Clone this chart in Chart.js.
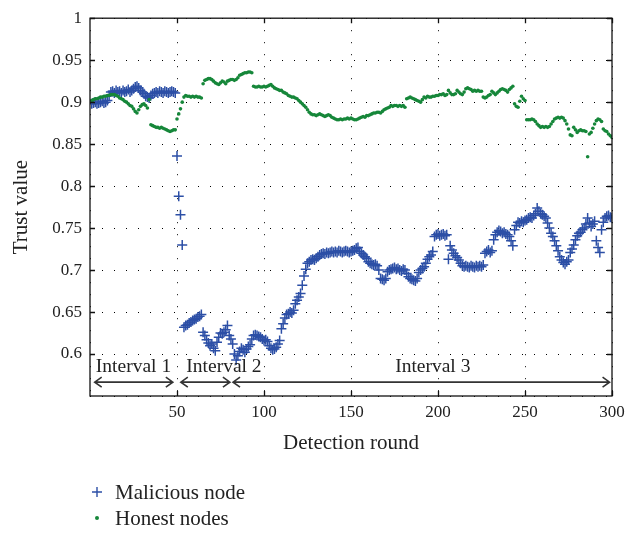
<!DOCTYPE html>
<html>
<head>
<meta charset="utf-8">
<script src="https://cdn.jsdelivr.net/npm/chart.js@4"></script>
<style>
html, body { margin: 0; padding: 0; background: #fff; }
#wrap { width: 640px; height: 533px; }
</style>
</head>
<body>
<div id="wrap"><canvas id="chart"></canvas></div>
<script>
// detection rounds 1..300 (x axis)
var rounds = [];
for (var r = 1; r <= 300; r++) rounds.push(r);

// trust value of the malicious node, one per round
var maliciousNode = [
    0.898, 0.899, 0.900, 0.898, 0.899, 0.900, 0.901, 0.899, 0.900, 0.902,
    0.908, 0.912, 0.913, 0.911, 0.914, 0.912, 0.913, 0.911, 0.914, 0.912,
    0.913, 0.915, 0.912, 0.914, 0.916, 0.918, 0.919, 0.917, 0.914, 0.912,
    0.910, 0.907, 0.906, 0.905, 0.908, 0.910, 0.911, 0.912, 0.911, 0.913,
    0.912, 0.911, 0.913, 0.912, 0.911, 0.912, 0.913, 0.912, 0.911, 0.836,
    0.788, 0.766, 0.730, 0.632, 0.634, 0.635, 0.637, 0.638, 0.640, 0.641,
    0.642, 0.644, 0.645, 0.647, 0.626, 0.622, 0.617, 0.613, 0.610, 0.612,
    0.607, 0.604, 0.614, 0.620, 0.625, 0.624, 0.626, 0.629, 0.634, 0.622,
    0.618, 0.612, 0.600, 0.593, 0.598, 0.603, 0.607, 0.605, 0.602, 0.606,
    0.609, 0.611, 0.618, 0.622, 0.623, 0.622, 0.621, 0.620, 0.618, 0.616,
    0.617, 0.615, 0.610, 0.607, 0.605, 0.606, 0.608, 0.612, 0.616, 0.630,
    0.636, 0.643, 0.647, 0.648, 0.650, 0.649, 0.652, 0.660, 0.664, 0.668,
    0.672, 0.682, 0.693, 0.701, 0.708, 0.710, 0.712, 0.713, 0.712, 0.714,
    0.716, 0.718, 0.719, 0.720, 0.719, 0.721, 0.720, 0.721, 0.722, 0.721,
    0.722, 0.721, 0.723, 0.722, 0.721, 0.722, 0.723, 0.722, 0.721, 0.722,
    0.723, 0.724, 0.726, 0.727, 0.722, 0.720, 0.718, 0.716, 0.714, 0.710,
    0.708, 0.707, 0.706, 0.707, 0.705, 0.700, 0.690, 0.689, 0.688, 0.690,
    0.698, 0.700, 0.701, 0.702, 0.703, 0.701, 0.702, 0.700, 0.699, 0.701,
    0.700, 0.696, 0.692, 0.690, 0.689, 0.688, 0.687, 0.690, 0.697, 0.700,
    0.702, 0.704, 0.708, 0.713, 0.716, 0.718, 0.722, 0.740, 0.742, 0.743,
    0.741, 0.742, 0.743, 0.741, 0.742, 0.713, 0.729, 0.724, 0.720, 0.717,
    0.715, 0.712, 0.708, 0.705, 0.704, 0.705, 0.704, 0.703, 0.705, 0.704,
    0.703, 0.705, 0.704, 0.705, 0.704, 0.706, 0.720, 0.722, 0.724, 0.721,
    0.723, 0.736, 0.742, 0.745, 0.747, 0.746, 0.744, 0.745, 0.743, 0.742,
    0.740, 0.735, 0.729, 0.748, 0.753, 0.757, 0.756, 0.758, 0.757, 0.759,
    0.760, 0.762, 0.763, 0.762, 0.765, 0.767, 0.774, 0.770, 0.767, 0.766,
    0.764, 0.762, 0.756, 0.750, 0.744, 0.740, 0.735, 0.729, 0.723, 0.716,
    0.712, 0.709, 0.707, 0.710, 0.712, 0.721, 0.725, 0.730, 0.736, 0.741,
    0.744, 0.745, 0.748, 0.750, 0.755, 0.762, 0.756, 0.752, 0.755, 0.758,
    0.735, 0.727, 0.721, 0.748, 0.757, 0.762, 0.764, 0.765, 0.763, 0.762
];

// trust value of the honest nodes, one per round
var honestNodes = [
    0.902, 0.903, 0.904, 0.904, 0.905, 0.906, 0.906, 0.907, 0.907, 0.908,
    0.908, 0.909, 0.909, 0.909, 0.908, 0.907, 0.905, 0.904, 0.903, 0.901,
    0.900, 0.898, 0.896, 0.895, 0.892, 0.889, 0.887, 0.891, 0.895, 0.897,
    0.898, 0.896, 0.893, 0.903, 0.873, 0.872, 0.871, 0.870, 0.870, 0.869,
    0.870, 0.869, 0.868, 0.867, 0.866, 0.865, 0.866, 0.867, 0.867, 0.880,
    0.886, 0.892, 0.900, 0.906, 0.908, 0.907, 0.907, 0.906, 0.907, 0.906,
    0.907, 0.906, 0.906, 0.905, 0.922, 0.926, 0.927, 0.928, 0.928, 0.927,
    0.925, 0.923, 0.922, 0.921, 0.923, 0.925, 0.924, 0.922, 0.925, 0.926,
    0.927, 0.927, 0.926, 0.927, 0.929, 0.932, 0.933, 0.934, 0.935, 0.935,
    0.936, 0.936, 0.935, 0.919, 0.918, 0.918, 0.919, 0.918, 0.918, 0.919,
    0.918, 0.919, 0.920, 0.921, 0.919, 0.917, 0.916, 0.915, 0.914, 0.914,
    0.912, 0.911, 0.910, 0.908, 0.907, 0.906, 0.906, 0.905, 0.904, 0.902,
    0.900, 0.898, 0.896, 0.894, 0.891, 0.888, 0.886, 0.885, 0.885, 0.884,
    0.885, 0.886, 0.885, 0.884, 0.883, 0.884, 0.885, 0.884, 0.882, 0.881,
    0.880, 0.879, 0.879, 0.880, 0.879, 0.880, 0.880, 0.881, 0.880, 0.881,
    0.880, 0.879, 0.879, 0.880, 0.881, 0.882, 0.883, 0.882, 0.884, 0.884,
    0.885, 0.886, 0.887, 0.887, 0.888, 0.888, 0.887, 0.889, 0.891, 0.892,
    0.893, 0.894, 0.896, 0.895, 0.896, 0.896, 0.895, 0.896, 0.895, 0.896,
    0.894, 0.904, 0.905, 0.906, 0.905, 0.904, 0.903, 0.902, 0.901, 0.900,
    0.903, 0.906, 0.905, 0.907, 0.906, 0.906, 0.907, 0.907, 0.908, 0.908,
    0.909, 0.909, 0.910, 0.908, 0.909, 0.914, 0.911, 0.909, 0.909, 0.910,
    0.914, 0.912, 0.910, 0.909, 0.912, 0.916, 0.917, 0.916, 0.915, 0.913,
    0.914, 0.913, 0.914, 0.913, 0.913, 0.906, 0.905, 0.906, 0.908, 0.909,
    0.913, 0.911, 0.909, 0.911, 0.913, 0.915, 0.916, 0.915, 0.914, 0.912,
    0.915, 0.917, 0.919, 0.898, 0.895, 0.894, 0.901, 0.907, 0.904, 0.902,
    0.879, 0.879, 0.879, 0.880, 0.879, 0.877, 0.874, 0.872, 0.870, 0.871,
    0.870, 0.871, 0.870, 0.871, 0.874, 0.877, 0.880, 0.881, 0.882, 0.881,
    0.882, 0.881, 0.878, 0.874, 0.868, 0.861, 0.860, 0.870, 0.867, 0.864,
    0.866, 0.867, 0.866, 0.866, 0.865, 0.835, 0.862, 0.864, 0.869, 0.874,
    0.878, 0.880, 0.879, 0.877, 0.868, 0.866, 0.865, 0.862, 0.860, 0.858
];

var xTicks = [50, 100, 150, 200, 250, 300];
var yTicks = [0.6, 0.65, 0.7, 0.75, 0.8, 0.85, 0.9, 0.95, 1];

// interval annotations (in detection rounds)
var intervalLabels = ["Interval 1", "Interval 2", "Interval 3"];
var intervalFrom = [2.7, 52.2, 82.2];
var intervalTo = [47.6, 80.4, 298.6];
var intervalTextAt = [25, 77, 197];

var SERIF = "'Liberation Serif', 'DejaVu Serif', serif";
var BLUE = "#2c4fa6";
var GREEN = "#16873a";

function toPoints(values) {
    return values.map(function (v, i) { return { x: rounds[i], y: v }; });
}

var decorations = {
    id: "decorations",
    afterDatasetsDraw: function (chart) {
        var ctx = chart.ctx;
        var a = chart.chartArea;
        var xs = chart.scales.x;
        var ys = chart.scales.y;
        ctx.save();
        // frame and inner ticks
        ctx.strokeStyle = "#111";
        ctx.lineWidth = 1.3;
        ctx.strokeRect(a.left, a.top, a.right - a.left, a.bottom - a.top);
        ctx.beginPath();
        xTicks.forEach(function (t) {
            var x = Math.round(xs.getPixelForValue(t)) + 0.5;
            ctx.moveTo(x, a.bottom); ctx.lineTo(x, a.bottom - 5);
            ctx.moveTo(x, a.top); ctx.lineTo(x, a.top + 5);
        });
        yTicks.forEach(function (t) {
            var y = Math.round(ys.getPixelForValue(t)) + 0.5;
            ctx.moveTo(a.left, y); ctx.lineTo(a.left + 5, y);
            ctx.moveTo(a.right, y); ctx.lineTo(a.right - 5, y);
        });
        ctx.stroke();

        // interval arrows
        var yArrow = ys.getPixelForValue(0.5665);
        var yText = ys.getPixelForValue(0.578);
        ctx.strokeStyle = "#333";
        ctx.lineWidth = 1.6;
        ctx.fillStyle = "#222";
        ctx.font = "19.5px " + SERIF;
        ctx.textAlign = "center";
        ctx.textBaseline = "alphabetic";
        intervalLabels.forEach(function (label, i) {
            var x1 = xs.getPixelForValue(intervalFrom[i]);
            var x2 = xs.getPixelForValue(intervalTo[i]);
            ctx.beginPath();
            ctx.moveTo(x1, yArrow); ctx.lineTo(x2, yArrow);
            ctx.moveTo(x1 + 7, yArrow - 5); ctx.lineTo(x1, yArrow); ctx.lineTo(x1 + 7, yArrow + 5);
            ctx.moveTo(x2 - 7, yArrow - 5); ctx.lineTo(x2, yArrow); ctx.lineTo(x2 - 7, yArrow + 5);
            ctx.stroke();
            ctx.fillText(label, xs.getPixelForValue(intervalTextAt[i]), yText);
        });
        ctx.restore();
    },
    afterDraw: function (chart) {
        // legend under the axis title, one entry per line
        var ctx = chart.ctx;
        var sets = chart.data.datasets;
        ctx.save();
        ctx.font = "21px " + SERIF;
        ctx.textBaseline = "middle";
        ctx.textAlign = "left";
        var y0 = 492;
        sets.forEach(function (ds, i) {
            var y = y0 + i * 26;
            ctx.strokeStyle = ds.borderColor;
            ctx.fillStyle = ds.backgroundColor;
            if (ds.pointStyle === "cross") {
                ctx.lineWidth = 1.4;
                ctx.beginPath();
                ctx.moveTo(92, y); ctx.lineTo(102, y);
                ctx.moveTo(97, y - 5); ctx.lineTo(97, y + 5);
                ctx.stroke();
            } else {
                ctx.beginPath();
                ctx.arc(97, y, 2, 0, Math.PI * 2);
                ctx.fill();
            }
            ctx.fillStyle = "#222";
            ctx.fillText(ds.label, 115, y + 1);
        });
        ctx.restore();
    }
};

new Chart(document.getElementById("chart").getContext("2d"), {
    type: "scatter",
    data: {
        datasets: [
            {
                label: "Malicious node",
                data: toPoints(maliciousNode),
                pointStyle: "cross",
                pointRadius: 5,
                borderColor: BLUE,
                backgroundColor: BLUE,
                borderWidth: 1.5,
                order: 1
            },
            {
                label: "Honest nodes",
                data: toPoints(honestNodes),
                pointStyle: "circle",
                pointRadius: 1.8,
                borderWidth: 0,
                borderColor: GREEN,
                backgroundColor: GREEN,
                order: 0
            }
        ]
    },
    options: {
        responsive: true,
        maintainAspectRatio: false,
        animation: false,
        layout: { padding: { left: 0, right: 28, top: 10, bottom: 77 } },
        plugins: { legend: { display: false }, tooltip: { enabled: false } },
        scales: {
            x: {
                type: "linear",
                min: 0,
                max: 300,
                afterFit: function (s) { s.height = 60; },
                ticks: {
                    stepSize: 50,
                    padding: 6,
                    color: "#222",
                    font: { family: SERIF, size: 17 },
                    callback: function (v) { return v === 0 ? "" : String(v); }
                },
                grid: { color: "#000", lineWidth: 1, drawTicks: false },
                border: { display: false, dash: [1, 11] },
                title: {
                    display: true,
                    text: "Detection round",
                    color: "#222",
                    font: { family: SERIF, size: 21 },
                    padding: { top: 0, bottom: 0 }
                }
            },
            y: {
                min: 0.55,
                max: 1,
                afterFit: function (s) { s.width = 90; },
                ticks: {
                    stepSize: 0.05,
                    padding: 8,
                    color: "#222",
                    font: { family: SERIF, size: 17 },
                    callback: function (v) {
                        if (Math.abs(v - 0.55) < 1e-6) return "";
                        return String(+v.toFixed(2));
                    }
                },
                grid: { color: "#000", lineWidth: 1, drawTicks: false },
                border: { display: false, dash: [1, 11] },
                title: {
                    display: true,
                    text: "Trust value",
                    color: "#222",
                    font: { family: SERIF, size: 21 },
                    padding: { top: 9, bottom: 0 }
                }
            }
        }
    },
    plugins: [decorations]
});
</script>
</body>
</html>
